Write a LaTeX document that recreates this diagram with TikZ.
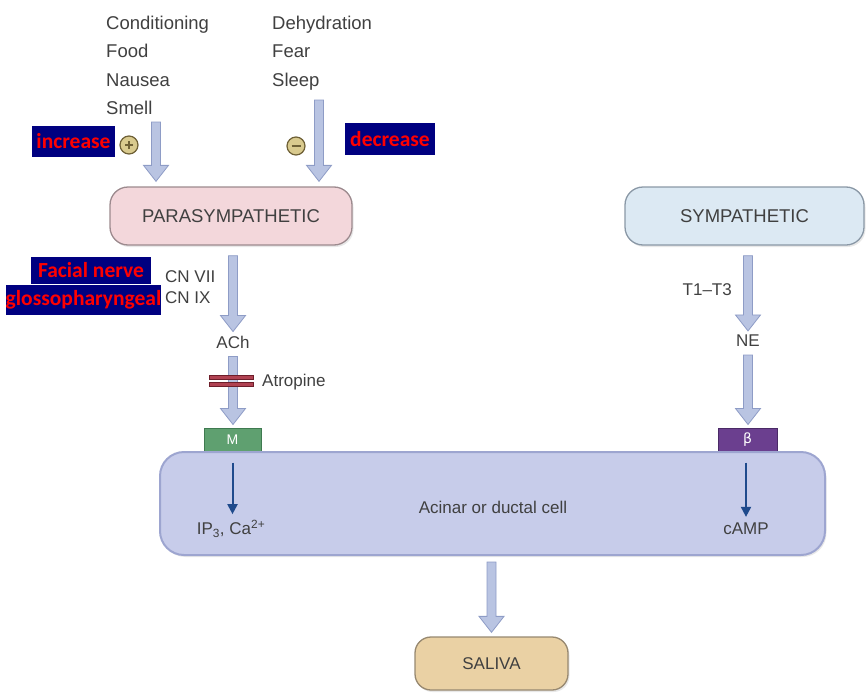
\documentclass[tikz,border=0pt]{standalone}
\usepackage{fontspec}
\setmainfont{Liberation Sans}
\newfontfamily\redfont{Carlito}
\usetikzlibrary{calc,arrows.meta,shadows}
\definecolor{txt}{HTML}{404040}
\definecolor{navyb}{HTML}{000080}
\definecolor{arrfill}{HTML}{B9C4E2}
\definecolor{arrdraw}{HTML}{8E9CC6}
\definecolor{signfill}{HTML}{D9CA8E}
\definecolor{signdraw}{HTML}{6E6036}
\definecolor{parafill}{HTML}{F3D7DB}
\definecolor{paradraw}{HTML}{9C8A8E}
\definecolor{symfill}{HTML}{DCE9F3}
\definecolor{symdraw}{HTML}{8A98A6}
\definecolor{cellfill}{HTML}{C7CCEA}
\definecolor{celldraw}{HTML}{9DA5D0}
\definecolor{salfill}{HTML}{EAD1A4}
\definecolor{saldraw}{HTML}{978870}
\definecolor{mfill}{HTML}{5FA070}
\definecolor{mdraw}{HTML}{3F7A50}
\definecolor{bfill}{HTML}{6B3F8F}
\definecolor{bdraw}{HTML}{4A2A66}
\definecolor{darkblue}{HTML}{1F4A8C}
\definecolor{atrofill}{HTML}{B04252}
\definecolor{atrodraw}{HTML}{6E1E2A}
\begin{document}
\begin{tikzpicture}[x=1pt,y=-1pt,
  every node/.style={text=txt, font=\fontsize{18.5}{22}\selectfont, inner sep=0pt},
  lbl/.style={anchor=base west},
  small/.style={font=\fontsize{17}{20}\selectfont},
  redlbl/.style={fill=navyb, text=red, font=\redfont\bfseries\fontsize{21.5}{24}\selectfont, inner sep=0pt},
  fat/.style={fill=arrfill, draw=arrdraw, line width=0.8pt,
    to path={let \p1=(\tikztostart), \p2=(\tikztotarget) in
      (\x1-4.5pt,\y1) -- (\x1+4.5pt,\y1) -- (\x1+4.5pt,\y2+16pt) -- (\x1+12.5pt,\y2+16pt)
      -- (\x1,\y2) -- (\x1-12.5pt,\y2+16pt) -- (\x1-4.5pt,\y2+16pt) -- cycle}},
  bigbox/.style={draw, rounded corners=18pt, line width=1.3pt, font=\fontsize{18.5}{22}\selectfont,
    drop shadow={opacity=0.18, shadow xshift=1.5pt, shadow yshift=-2pt}},
  rec/.style={draw, line width=1pt, minimum width=57, minimum height=24, text=white, font=\fontsize{14}{16}\selectfont},
  thinarr/.style={draw=darkblue, line width=2pt, -{Triangle[length=10pt,width=10pt]}},
  sign/.style={circle, draw=signdraw, fill=signfill, line width=1.2pt, minimum size=18, text=black!80},
  bar/.style={fill=atrofill, draw=atrodraw, line width=0.6pt}
]
\useasboundingbox (0,0) rectangle (866,693);

% top stimuli
\node[lbl] (cond) at (106,30) {Conditioning};
\node[lbl] (food) at (106,58) {Food};
\node[lbl] (naus) at (106,86) {Nausea};
\node[lbl] (smell) at (106,114) {Smell};
\node[lbl] (dehy) at (272,30) {Dehydration};
\node[lbl] (fear) at (272,58) {Fear};
\node[lbl] (sleep) at (272,86) {Sleep};

% red labels
\node[redlbl, minimum width=83, minimum height=31] (inc) at (73.5,141.5) {increase};
\node[redlbl, minimum width=90, minimum height=32] (dec) at (390,139) {decrease};
\node[sign] (plus) at (129,145) {};
\draw[signdraw, line width=1.6pt] ([xshift=-4pt]plus.center) -- ([xshift=4pt]plus.center)
  ([yshift=-4pt]plus.center) -- ([yshift=4pt]plus.center);
\node[sign] (minus) at (296,146) {};
\draw[signdraw, line width=1.6pt] ([xshift=-4.5pt]minus.center) -- ([xshift=4.5pt]minus.center);

% boxes
\node[bigbox, fill=parafill, draw=paradraw, minimum width=242, minimum height=58] (para) at (231,216) {PARASYMPATHETIC};
\node[bigbox, fill=symfill, draw=symdraw, minimum width=239, minimum height=58] (sym) at (744.5,216) {SYMPATHETIC};

% stimulus arrows
\coordinate (i1) at (156,122);
\coordinate (d1) at (319,100);
\path[fat] (i1) to ([yshift=5pt]para.north -| i1);
\path[fat] (d1) to ([yshift=5pt]para.north -| d1);

% nerve labels
\node[redlbl, minimum width=120, minimum height=27] (facial) at (91,270.5) {Facial nerve};
\node[redlbl, minimum width=155, minimum height=30] (glosso) at (83.5,299.5) {glossopharyngeal};
\node[lbl, small] (cn7) at (165,282) {CN VII};
\node[lbl, small] (cn9) at (165,303) {CN IX};
\node[anchor=base east, small] (t13) at (732,295) {T1--T3};

% transmitters
\node[small] (ach) at (233,342) {ACh};
\node[small] (ne) at (748,341) {NE};

\node[rec, fill=mfill, draw=mdraw] (M) at (232.5,440) {M};
\node[rec, fill=bfill, draw=bdraw, minimum width=59] (beta) at (747.5,440) {\fontspec{DejaVu Sans}\fontsize{14}{16}\selectfont β};

\path[fat] ([yshift=-10pt]para.south -| ach) to ([yshift=4pt]ach.north);
\path[fat] ([yshift=-8pt]ach.south) to ([yshift=3pt]M.north);
\path[fat] ([yshift=-10pt]sym.south -| ne) to ([yshift=4pt]ne.north);
\path[fat] ([yshift=-8pt]ne.south) to ([yshift=3pt]beta.north);

% atropine
\draw[bar] (209,375) rectangle (253,379);
\draw[bar] (209,382) rectangle (253,386);
\node[lbl, small] (atro) at (262,386) {Atropine};

% cell
\node[draw=celldraw, fill=cellfill, line width=2pt, rounded corners=24pt, minimum width=665, minimum height=103,
  drop shadow={opacity=0.18, shadow xshift=1.5pt, shadow yshift=-2pt}] (cell) at (492.5,503.5) {};
\node[small] (acin) at (493,507) {Acinar or ductal cell};
\node[small] (ip) at (231,529) {IP\textsubscript{3}, Ca\textsuperscript{2+}};
\node[small] (camp) at (746,529) {cAMP};
\draw[thinarr] ([yshift=-10pt]M.south) -- ([yshift=6pt]ip.north -| M.south);
\draw[thinarr] ([yshift=-10pt]beta.south -| camp) -- ([yshift=6pt]camp.north);

% saliva
\node[bigbox, fill=salfill, draw=saldraw, minimum width=153, minimum height=53, rounded corners=16pt, small] (saliva) at (491.5,663.5) {SALIVA};
\path[fat] ([yshift=-6pt]cell.south -| saliva) to ([yshift=4pt]saliva.north);
\end{tikzpicture}
\end{document}
